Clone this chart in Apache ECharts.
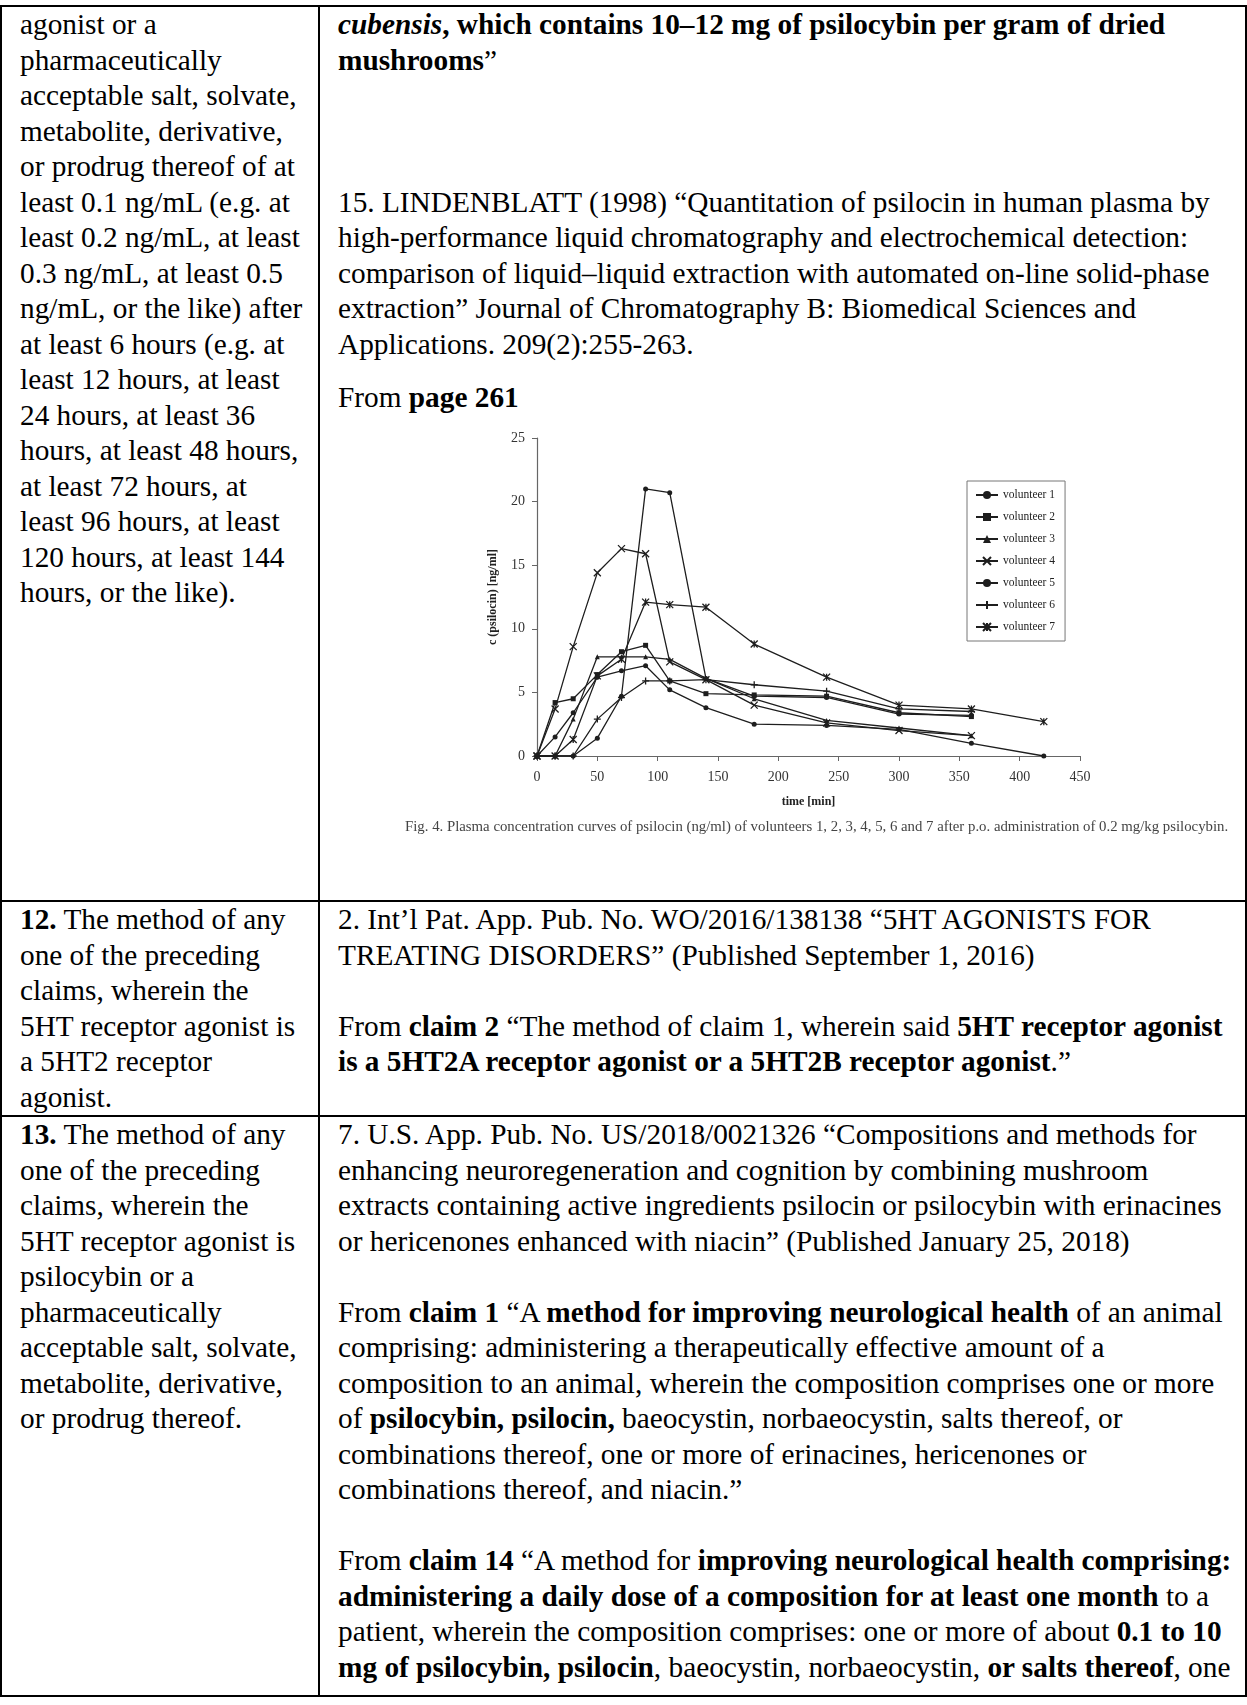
<!DOCTYPE html>
<html>
<head>
<meta charset="utf-8">
<script src="https://cdn.jsdelivr.net/npm/echarts@6/dist/echarts.min.js"></script>
<style>
  html, body { margin: 0; padding: 0; background: #fff; }
  body { width: 1247px; height: 1705px; position: relative; overflow: hidden;
         font-family: "Liberation Serif", "Times New Roman", serif; color: #000; }
  table { position: absolute; left: 0; top: 5px; width: 1247px; border-collapse: collapse;
          table-layout: fixed; font-size: 29.3px; line-height: 35.5px; }
  td { border: 2px solid #000; vertical-align: top; padding: 0 6px 0 18px; white-space: nowrap; }
  td.l { width: 292px; }
  tr.last td { padding-bottom: 10px; }
  .gap { height: 18px; }
  #chart { position: absolute; left: 400px; top: 420px; width: 847px; height: 450px; }
</style>
</head>
<body>
<table>
  <tr style="height:895px">
    <td class="l">agonist or a<br>pharmaceutically<br>acceptable salt, solvate,<br>metabolite, derivative,<br>or prodrug thereof of at<br>least 0.1 ng/mL (e.g. at<br>least 0.2 ng/mL, at least<br>0.3 ng/mL, at least 0.5<br>ng/mL, or the like) after<br>at least 6 hours (e.g. at<br>least 12 hours, at least<br>24 hours, at least 36<br>hours, at least 48 hours,<br>at least 72 hours, at<br>least 96 hours, at least<br>120 hours, at least 144<br>hours, or the like).</td>
    <td><b><i>cubensis</i>, which contains 10–12 mg of psilocybin per gram of dried<br>mushrooms</b>”<br><br><br><br>15. LINDENBLATT (1998) “Quantitation of psilocin in human plasma by<br>high-performance liquid chromatography and electrochemical detection:<br>comparison of liquid–liquid extraction with automated on-line solid-phase<br>extraction” Journal of Chromatography B: Biomedical Sciences and<br>Applications. 209(2):255-263.<div class="gap"></div>From <b>page 261</b></td>
  </tr>
  <tr>
    <td class="l"><b>12.</b> The method of any<br>one of the preceding<br>claims, wherein the<br>5HT receptor agonist is<br>a 5HT2 receptor<br>agonist.</td>
    <td>2. Int’l Pat. App. Pub. No. WO/2016/138138 “5HT AGONISTS FOR<br>TREATING DISORDERS” (Published September 1, 2016)<br><br>From <b>claim 2</b> “The method of claim 1, wherein said <b>5HT receptor agonist</b><br><b>is a 5HT2A receptor agonist or a 5HT2B receptor agonist</b>.”</td>
  </tr>
  <tr class="last">
    <td class="l"><b>13.</b> The method of any<br>one of the preceding<br>claims, wherein the<br>5HT receptor agonist is<br>psilocybin or a<br>pharmaceutically<br>acceptable salt, solvate,<br>metabolite, derivative,<br>or prodrug thereof.</td>
    <td>7. U.S. App. Pub. No. US/2018/0021326 “Compositions and methods for<br>enhancing neuroregeneration and cognition by combining mushroom<br>extracts containing active ingredients psilocin or psilocybin with erinacines<br>or hericenones enhanced with niacin” (Published January 25, 2018)<br><br>From <b>claim 1</b> “A <b>method for improving neurological health</b> of an animal<br>comprising: administering a therapeutically effective amount of a<br>composition to an animal, wherein the composition comprises one or more<br>of <b>psilocybin, psilocin,</b> baeocystin, norbaeocystin, salts thereof, or<br>combinations thereof, one or more of erinacines, hericenones or<br>combinations thereof, and niacin.”<br><br>From <b>claim 14</b> “A method for <b>improving neurological health comprising:<br>administering a daily dose of a composition for at least one month</b> to a<br>patient, wherein the composition comprises: one or more of about <b>0.1 to 10<br>mg of psilocybin, psilocin</b>, baeocystin, norbaeocystin, <b>or salts thereof</b>, one</td>
  </tr>
</table>
<div id="chart"></div>
<script>
// Data (time in min, concentration in ng/ml)
const times = [0, 15, 30, 50, 70, 90, 110, 140, 180, 240, 300, 360, 420];
const volunteer1 = [0, 1.5, 3.4, 6.2, 6.7, 7.1, 5.2, 3.8, 2.5, 2.4, 2.1, 1.0, 0];
const volunteer2 = [0, 4.2, 4.5, 6.4, 8.2, 8.7, 5.9, 4.9, 4.8, 4.7, 3.4, 3.1, null];
const volunteer3 = [0, 0, 2.9, 7.8, 7.8, 7.8, 7.6, 6.1, 4.5, 2.8, 2.2, 1.6, null];
const volunteer4 = [0, 3.7, 8.6, 14.4, 16.3, 15.9, 7.4, 6.0, 4.0, 2.6, 2.0, 1.6, null];
const volunteer5 = [0, 0, 0, 1.4, 4.7, 21.0, 20.7, 6.1, 4.7, 4.6, 3.3, 3.2, null];
const volunteer6 = [0, 0, 0, 2.9, 4.6, 5.9, 5.9, 6.0, 5.6, 5.1, 3.7, 3.5, null];
const volunteer7 = [0, 0, 1.3, 6.3, 7.6, 12.1, 11.9, 11.7, 8.8, 6.2, 4.0, 3.7, 2.7];
const seriesNames = ['volunteer 1', 'volunteer 2', 'volunteer 3', 'volunteer 4', 'volunteer 5', 'volunteer 6', 'volunteer 7'];
const xTicks = [0, 50, 100, 150, 200, 250, 300, 350, 400, 450];
const yTicks = [0, 5, 10, 15, 20, 25];
const caption = 'Fig. 4. Plasma concentration curves of psilocin (ng/ml) of volunteers 1, 2, 3, 4, 5, 6 and 7 after p.o. administration of 0.2 mg/kg psilocybin.';

const allValues = [volunteer1, volunteer2, volunteer3, volunteer4, volunteer5, volunteer6, volunteer7];
const symbols = [
  'circle', 'rect', 'triangle',
  'path://M0,0L10,10M10,0L0,10',
  'circle',
  'path://M5,0L5,10M0,5L10,5',
  'path://M0,0L10,10M10,0L0,10M5,0L5,10'
];
const ink = '#1e1e1e';
const chart = echarts.init(document.getElementById('chart'), null, { renderer: 'canvas' });
const series = allValues.map((vals, i) => ({
  name: seriesNames[i],
  type: 'line',
  data: times.map((t, k) => vals[k] == null ? null : [t, vals[k]]).filter(p => p),
  symbol: symbols[i],
  symbolSize: (i === 3 || i === 5 || i === 6) ? 7 : 5,
  showSymbol: true,
  lineStyle: { color: ink, width: 1.3 },
  itemStyle: { color: ink, borderColor: ink, borderWidth: (i === 3 || i === 5 || i === 6) ? 1.3 : 0 },
  emphasis: { disabled: true },
  animation: false
}));
chart.setOption({
  animation: false,
  textStyle: { fontFamily: 'Liberation Serif' },
  grid: { left: 137, top: 18, width: 543, height: 318 },
  legend: {
    orient: 'vertical', left: 567, top: 61,
    data: seriesNames,
    itemWidth: 22, itemHeight: 10, itemGap: 10,
    padding: [8, 10, 8, 8],
    borderColor: '#777', borderWidth: 1,
    textStyle: { fontFamily: 'Liberation Serif', fontSize: 11.5, color: '#222' }
  },
  xAxis: {
    type: 'value', min: xTicks[0], max: xTicks[xTicks.length - 1], interval: 50,
    name: 'time [min]', nameLocation: 'middle', nameGap: 40,
    nameTextStyle: { fontFamily: 'Liberation Serif', fontSize: 12, fontWeight: 'bold', color: '#222' },
    axisLine: { lineStyle: { color: '#666', width: 1.2 } },
    axisTick: { lineStyle: { color: '#666' }, length: 5 },
    axisLabel: { fontFamily: 'Liberation Serif', fontSize: 14, color: '#333', margin: 14 },
    splitLine: { show: false }
  },
  yAxis: {
    type: 'value', min: yTicks[0], max: yTicks[yTicks.length - 1], interval: 5,
    name: 'c (psilocin) [ng/ml]', nameLocation: 'middle', nameGap: 38, nameRotate: 90,
    nameTextStyle: { fontFamily: 'Liberation Serif', fontSize: 12, fontWeight: 'bold', color: '#222' },
    axisLine: { show: true, lineStyle: { color: '#666', width: 1.2 } },
    axisTick: { show: true, lineStyle: { color: '#666' }, length: 5 },
    axisLabel: { fontFamily: 'Liberation Serif', fontSize: 14, color: '#333', margin: 12 },
    splitLine: { show: false }
  },
  graphic: [{
    type: 'text', left: 5, top: 400,
    style: { text: caption, fontFamily: 'Liberation Serif', fontSize: 14.8, fill: '#444' }
  }],
  series: series
});
</script>
</body>
</html>
